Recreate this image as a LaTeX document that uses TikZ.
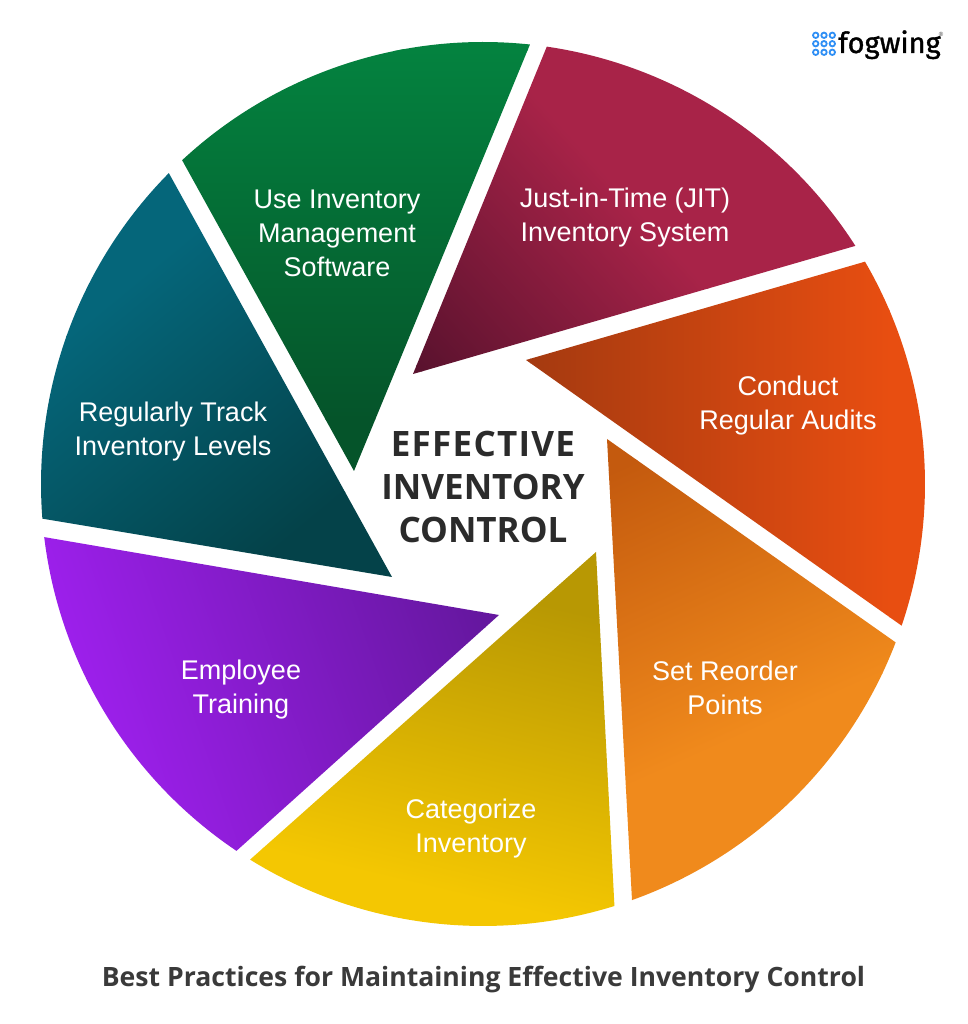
\documentclass[tikz,border=0pt]{standalone}
\usepackage{fontspec}
\setmainfont{Liberation Sans}
\newfontfamily\titlefont{Open Sans}
\newfontfamily\logofont[FakeBold=1.2]{Fira Sans}
\usetikzlibrary{calc}
\definecolor{darktext}{HTML}{2B2B2B}
\definecolor{captext}{HTML}{3A3A3A}
\definecolor{dotblue}{HTML}{2F8FF5}
\definecolor{greenA}{HTML}{04823F}\definecolor{greenB}{HTML}{05542A}
\definecolor{maroonA}{HTML}{A82348}\definecolor{maroonB}{HTML}{5A122E}
\definecolor{redA}{HTML}{E84E11}\definecolor{redB}{HTML}{A53A10}
\definecolor{orangeA}{HTML}{F08A1C}\definecolor{orangeB}{HTML}{C45A0E}
\definecolor{yellowA}{HTML}{F4C702}\definecolor{yellowB}{HTML}{B89803}
\definecolor{purpleA}{HTML}{A020F0}\definecolor{purpleB}{HTML}{65179F}
\definecolor{tealA}{HTML}{05667A}\definecolor{tealB}{HTML}{044249}
\tikzset{
  x=1pt,y=1pt,
  seglabel/.style={text=white,align=center,font=\fontsize{27}{34}\selectfont,inner sep=0pt},
  corelabel/.style={text=darktext,align=center,font=\titlefont\bfseries\fontsize{35}{43}\selectfont,inner sep=0pt},
  caplabel/.style={text=captext,font=\titlefont\bfseries\fontsize{26.6}{30}\selectfont,inner sep=0pt},
  logodot/.style={draw=dotblue,line width=1.8pt,fill=white,circle,minimum size=5.4pt,inner sep=0pt},
}
% gradient line in image pixel coordinates (y down)
\newcommand{\setgrad}[4]{%
  \pgfmathsetmacro{\gsx}{#1}\pgfmathsetmacro{\gsy}{1024-#2}%
  \pgfmathsetmacro{\gex}{#3}\pgfmathsetmacro{\gey}{1024-#4}%
  \pgfmathsetmacro{\gang}{atan2(\gey-\gsy,\gex-\gsx)}%
  \pgfmathsetmacro{\glen}{veclen(\gex-\gsx,\gey-\gsy)}}
% #1 start angle, #2 end angle, #3,#4 apex (image px), #5 colour at start, #6 colour at end
\newcommand{\petal}[6]{%
  \begin{scope}
    \clip (#3,1024-#4) -- ($(C)+(#1:442)$) arc[start angle=#1,end angle=#2,radius=442] -- cycle;
    \begin{scope}[transform canvas={shift={(\gsx,\gsy)},rotate=\gang}]
      \fill[#5] (-1500,-1500) rectangle (1,1500);
      \fill[#6] (\glen-1,-1500) rectangle (1500,1500);
      \shade[left color=#5,right color=#6] (0,-1500) rectangle (\glen,1500);
    \end{scope}
  \end{scope}}
\begin{document}
\begin{tikzpicture}
\useasboundingbox (0,0) rectangle (967,1024);
\fill[white] (0,0) rectangle (967,1024);
\coordinate (C) at (483,540);
\setgrad{355}{50}{355}{420}\petal{83.9}{132.9}{354}{471}{greenA}{greenB}
\setgrad{620}{190}{420}{370}\petal{32.6}{81.7}{413}{374}{maroonA}{maroonB}
\setgrad{890}{450}{530}{450}\petal{-18.7}{30.2}{526}{360}{redA}{redB}
\setgrad{745}{735}{625}{465}\petal{-70.3}{-21}{607}{439}{orangeA}{orangeB}
\setgrad{500}{905}{570}{610}\petal{-121.8}{-72.7}{596}{552}{yellowA}{yellowB}
\setgrad{80}{750}{480}{610}\petal{-173.1}{-123.9}{499}{615}{purpleA}{purpleB}
\setgrad{110}{300}{300}{530}\petal{-224.7}{-175.5}{392}{577}{tealA}{tealB}
\node[seglabel] (software) at (337,1024-233) {Use Inventory\\Management\\Software};
\node[seglabel] (jit) at (625,1024-218) {Just-in-Time (JIT)\\Inventory System};
\node[seglabel] (audits) at (788,1024-406) {Conduct\\Regular Audits};
\node[seglabel] (reorder) at (725,1024-688) {Set Reorder\\Points};
\node[seglabel] (categorize) at (471,1024-829) {Categorize\\Inventory};
\node[seglabel] (training) at (241,1024-690) {Employee\\Training};
\node[seglabel] (track) at (173,1024-432) {Regularly Track\\Inventory Levels};
\node[corelabel] (core) at (483,1024-487) {{\addfontfeature{LetterSpace=3.6}EFFECTIVE}\\INVENTORY\\CONTROL};
\node[caplabel] (caption) at (483.5,1024-980) {Best Practices for Maintaining Effective Inventory Control};
\foreach \i/\dx in {a/815.7,b/824,c/832.3}
  \foreach \j/\dy in {1/35.3,2/43.7,3/52.3}
    \node[logodot] (dot\i\j) at (\dx,1024-\dy) {};
\node[anchor=base west,inner sep=0pt,font=\logofont\fontsize{29}{29}\selectfont] (logo) at (838,1024-53) {fogwing};
\node[inner sep=0pt,text=captext,font=\fontsize{6}{6}\selectfont] (reg) at (941,1024-34) {®};
\end{tikzpicture}
\end{document}
